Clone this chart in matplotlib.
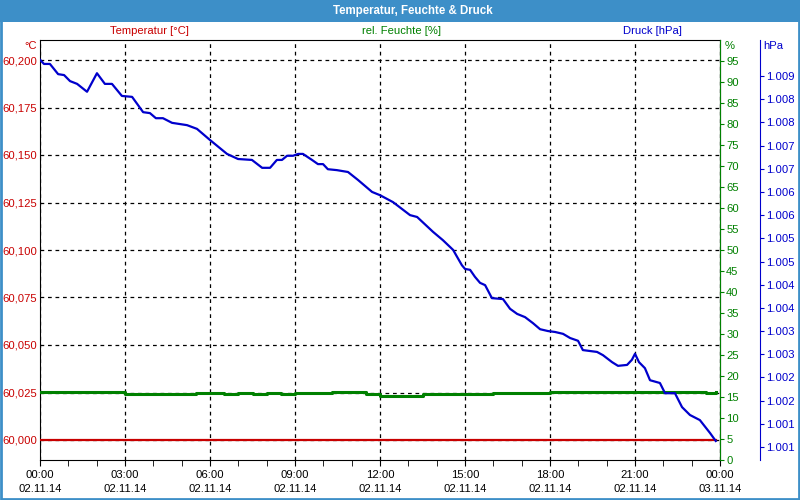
import math

import matplotlib
matplotlib.use("Agg")
import matplotlib.pyplot as plt
from matplotlib.patches import Rectangle
from matplotlib.ticker import FixedLocator, FuncFormatter, MultipleLocator

# --- data (hours since 02.11.14 00:00) ---
druck_h = [0.00, 0.14, 0.35, 0.64, 0.85, 1.06, 1.31, 1.66, 2.01, 2.29, 2.54, 2.89,
           3.25, 3.64, 3.88, 4.09, 4.34, 4.66, 5.19, 5.54, 6.00, 6.60, 6.99, 7.48,
           7.84, 8.12, 8.36, 8.54, 8.72, 8.93, 9.11, 9.28, 9.60, 9.81, 9.99, 10.16,
           10.48, 10.87, 11.22, 11.72, 12.00, 12.46, 13.06, 13.31, 13.87, 14.22, 14.58,
           14.89, 15.00, 15.18, 15.35, 15.53, 15.71, 15.95, 16.34, 16.59, 16.84, 17.12,
           17.40, 17.65, 17.93, 18.18, 18.46, 18.71, 18.99, 19.16, 19.66, 19.87, 20.19,
           20.40, 20.72, 20.89, 21.00, 21.14, 21.35, 21.53, 21.88, 22.06, 22.41, 22.66,
           22.94, 23.29, 23.65, 23.85]
druck = [1008.85, 1008.76, 1008.76, 1008.54, 1008.52, 1008.39, 1008.33, 1008.16,
         1008.56, 1008.33, 1008.33, 1008.07, 1008.05, 1007.72, 1007.70, 1007.59,
         1007.59, 1007.49, 1007.44, 1007.36, 1007.12, 1006.82, 1006.71, 1006.69,
         1006.52, 1006.52, 1006.69, 1006.69, 1006.78, 1006.78, 1006.82, 1006.82,
         1006.69, 1006.60, 1006.60, 1006.49, 1006.47, 1006.43, 1006.26, 1006.00,
         1005.93, 1005.78, 1005.50, 1005.46, 1005.14, 1004.96, 1004.75, 1004.42,
         1004.34, 1004.32, 1004.17, 1004.04, 1003.99, 1003.71, 1003.69, 1003.48,
         1003.37, 1003.30, 1003.17, 1003.04, 1003.00, 1002.98, 1002.94, 1002.85,
         1002.79, 1002.59, 1002.55, 1002.48, 1002.33, 1002.25, 1002.27, 1002.38,
         1002.51, 1002.33, 1002.20, 1001.94, 1001.88, 1001.66, 1001.66, 1001.36,
         1001.19, 1001.08, 1000.80, 1000.63]

feuchte_h = [0, 1, 2, 2.8, 3, 4, 5, 5.5, 6, 6.5, 7, 7.5, 8, 8.5, 9, 10, 10.3, 11, 11.5,
             12, 13, 13.5, 14, 15, 16, 17, 18, 19, 20, 21, 21.5, 22, 22.5, 23, 23.5, 23.85]
feuchte = [16.1, 16.1, 16.1, 16.1, 15.8, 15.8, 15.8, 16.0, 16.0, 15.8, 16.0, 15.8, 16.0,
           15.8, 16.0, 16.0, 16.3, 16.1, 15.6, 15.3, 15.3, 15.6, 15.7, 15.8, 15.9, 16.0,
           16.1, 16.1, 16.1, 16.3, 16.1, 16.1, 16.3, 16.3, 16.0, 16.2]

temp_h = [0, 23.85]
temp = [60.0, 60.0]

x_ticks = [0, 3, 6, 9, 12, 15, 18, 21, 24]
x_labels = ["00:00\n02.11.14", "03:00\n02.11.14", "06:00\n02.11.14", "09:00\n02.11.14",
            "12:00\n02.11.14", "15:00\n02.11.14", "18:00\n02.11.14", "21:00\n02.11.14",
            "00:00\n03.11.14"]

RED = "#c80000"
GREEN = "#008000"
BLUE = "#0000cc"
BAR = "#3d8fc8"

plt.rcParams["font.family"] = ["Liberation Sans", "DejaVu Sans"]
plt.rcParams["font.size"] = 8.1

fig = plt.figure(figsize=(8, 5), dpi=100)
ax = fig.add_axes([40 / 800, 40 / 500, 680 / 800, 420 / 500])

# title bar and frame
fig.patches.append(Rectangle((0, 478 / 500), 1, 22 / 500, transform=fig.transFigure,
                             facecolor=BAR, edgecolor="none", zorder=0))
fig.patches.append(Rectangle((0.001, 0.002), 0.998, 0.996, transform=fig.transFigure,
                             facecolor="none", edgecolor=BAR, linewidth=2, zorder=0))
fig.text(0.516, 489 / 500, "Temperatur, Feuchte & Druck", color="white",
         fontweight="bold", fontsize=8.3, ha="center", va="center")

# temperature (host axes)
ax.plot(temp_h, temp, color=RED, linewidth=1.6, zorder=3)
ax.set_xlim(0, 24)
ax.set_ylim(60.0 - 20 / 47.5 * 0.025, 60.2 + 20 / 47.5 * 0.025)
ax.yaxis.set_major_locator(FixedLocator([60.0 + 0.025 * i for i in range(9)]))
ax.yaxis.set_major_formatter(FuncFormatter(lambda v, p: f"{v:.3f}".replace(".", ",")))
ax.tick_params(axis="y", colors=RED, length=0, pad=2)
ax.set_xticks(x_ticks)
ax.set_xticklabels(x_labels)
ax.xaxis.set_minor_locator(MultipleLocator(1))
ax.tick_params(axis="x", which="both", direction="out", length=4, pad=3, colors="black")
for lbl in ax.get_xticklabels():
    lbl.set_linespacing(1.5)
ax.grid(True, which="major", color="black", linestyle=(0, (3, 3)), linewidth=0.9)
for s in ax.spines.values():
    s.set_color("black")

# humidity
ax2 = ax.twinx()
ax2.plot(feuchte_h, feuchte, color=GREEN, linewidth=2.2, drawstyle="steps-post")
ax2.set_ylim(0, 100)
ax2.set_yticks(range(0, 100, 5))
ax2.tick_params(axis="y", colors=GREEN, direction="out", length=3, pad=1.5)
ax2.spines["right"].set_color(GREEN)
for k in ("left", "top", "bottom"):
    ax2.spines[k].set_visible(False)

# pressure
ax3 = ax.twinx()
ax3.plot(druck_h, druck, color=BLUE, linewidth=1.6)
ax3.set_ylim(1000.5 - 13 / 46.375, 1008.5 + 36 / 46.375)
ax3.yaxis.set_major_locator(FixedLocator([1000.5 + 0.5 * i for i in range(17)]))
ax3.yaxis.set_major_formatter(
    FuncFormatter(lambda v, p: f"{int(math.floor(v + 0.5)):,}".replace(",", ".")))
ax3.spines["right"].set_position(("axes", 720 / 680))
ax3.spines["right"].set_color(BLUE)
for k in ("left", "top", "bottom"):
    ax3.spines[k].set_visible(False)
ax3.tick_params(axis="y", colors=BLUE, direction="out", length=3, pad=1.5)

# series captions and unit labels
fig.text(149 / 800, 1 - 31 / 500, "Temperatur [°C]", color=RED, ha="center", va="center")
fig.text(402 / 800, 1 - 31 / 500, "rel. Feuchte [%]", color=GREEN, ha="center", va="center")
fig.text(652 / 800, 1 - 31 / 500, "Druck [hPa]", color=BLUE, ha="center", va="center")
fig.text(37 / 800, 1 - 46 / 500, "°C", color=RED, ha="right", va="center")
fig.text(725 / 800, 1 - 46 / 500, "%", color=GREEN, ha="left", va="center")
fig.text(763 / 800, 1 - 46 / 500, "hPa", color=BLUE, ha="left", va="center")

fig.savefig("out.png", dpi=100)
